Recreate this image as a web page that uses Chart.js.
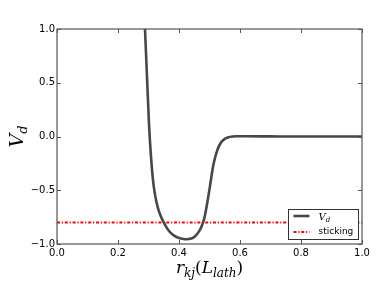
<!DOCTYPE html>
<html>
<head>
<meta charset="utf-8">
<script src="https://cdn.jsdelivr.net/npm/chart.js@4.4.1/dist/chart.umd.min.js"></script>
<style>
  html, body { margin: 0; padding: 0; background: #fff; }
  #wrap { width: 382px; height: 288px; }
</style>
</head>
<body>
<div id="wrap"><canvas id="myChart" width="382" height="288"></canvas></div>
<script>
// values
const rValues = [0.282, 0.2885, 0.295, 0.3016, 0.307, 0.3125, 0.317, 0.322, 0.327, 0.333, 0.340, 0.349, 0.360,
  0.372, 0.385, 0.400, 0.415, 0.425, 0.437, 0.447, 0.457, 0.465, 0.472, 0.480, 0.486, 0.491, 0.496, 0.502,
  0.507, 0.512, 0.518, 0.524, 0.531, 0.540, 0.550, 0.562, 0.575, 0.589, 0.62, 0.7, 0.8, 0.9, 1.0];
const vdValues = [1.45, 1.0, 0.56, 0.12, -0.14, -0.34, -0.46, -0.55, -0.62, -0.685, -0.74, -0.795, -0.85,
  -0.895, -0.925, -0.945, -0.954, -0.956, -0.952, -0.94, -0.915, -0.885, -0.85, -0.79, -0.72, -0.645, -0.56, -0.455,
  -0.36, -0.275, -0.20, -0.14, -0.09, -0.048, -0.022, -0.008, 0.0, 0.003, 0.002, 0.001, 0.0, 0.0, 0.0];
const stickingR = [0.0, 1.0];
const stickingV = [-0.8, -0.8];
const xTicks = [0.0, 0.2, 0.4, 0.6, 0.8, 1.0];
const yTicks = [-1.0, -0.5, 0.0, 0.5, 1.0];

const fmt = v => (v < 0 ? '\u2212' : '') + Math.abs(v).toFixed(1);

// draws a little piece of "math" text: [text, size, dy, italic]
function drawMath(ctx, parts, x, y, align) {
  let w = 0;
  parts.forEach(p => {
    ctx.font = (p[3] ? 'italic ' : '') + p[1] + 'px "DejaVu Serif"';
    w += ctx.measureText(p[0]).width;
  });
  let cx = align === 'center' ? x - w / 2 : x;
  ctx.textAlign = 'left';
  ctx.textBaseline = 'alphabetic';
  parts.forEach(p => {
    ctx.font = (p[3] ? 'italic ' : '') + p[1] + 'px "DejaVu Serif"';
    ctx.fillText(p[0], cx, y + p[2]);
    cx += ctx.measureText(p[0]).width;
  });
}

const framePlugin = {
  id: 'frame',
  afterDraw(chart) {
    const ctx = chart.ctx;
    const a = chart.chartArea;
    const xs = chart.scales.x, ys = chart.scales.y;
    ctx.save();
    // spines
    ctx.strokeStyle = '#555';
    ctx.lineWidth = 1.2;
    ctx.strokeRect(a.left, a.top, a.right - a.left, a.bottom - a.top);
    // inward ticks on all four sides
    ctx.lineWidth = 1;
    ctx.beginPath();
    xTicks.forEach(v => {
      const px = Math.round(xs.getPixelForValue(v)) + 0.5;
      ctx.moveTo(px, a.bottom); ctx.lineTo(px, a.bottom - 4);
      ctx.moveTo(px, a.top); ctx.lineTo(px, a.top + 4);
    });
    yTicks.forEach(v => {
      const py = Math.round(ys.getPixelForValue(v)) + 0.5;
      ctx.moveTo(a.left, py); ctx.lineTo(a.left + 4, py);
      ctx.moveTo(a.right, py); ctx.lineTo(a.right - 4, py);
    });
    ctx.stroke();

    // axis titles
    ctx.fillStyle = '#000';
    drawMath(ctx, [['r', 17, 0, true], ['kj', 12, 4, true], ['(', 17, 0, false], ['L', 17, 0, true],
      ['lath', 12, 4, true], [')', 17, 0, false]], (a.left + a.right) / 2, 272.5, 'center');
    ctx.save();
    ctx.translate(23, (a.top + a.bottom) / 2);
    ctx.rotate(-Math.PI / 2);
    drawMath(ctx, [['V', 19, 0, true], ['d', 13, 4, true]], 0, 0, 'center');
    ctx.restore();

    // legend
    const ds = chart.data.datasets;
    const bx = 288.5, by = 209.5, bw = 70, bh = 30;
    ctx.fillStyle = '#fff';
    ctx.fillRect(bx, by, bw, bh);
    ctx.strokeStyle = '#333';
    ctx.lineWidth = 1;
    ctx.strokeRect(bx, by, bw, bh);
    const rows = [216, 232];
    ds.forEach((d, i) => {
      ctx.beginPath();
      ctx.strokeStyle = d.borderColor;
      ctx.lineWidth = d.borderWidth;
      ctx.setLineDash(d.borderDash || []);
      ctx.moveTo(bx + 5, rows[i]);
      ctx.lineTo(bx + 21, rows[i]);
      ctx.stroke();
      ctx.setLineDash([]);
    });
    ctx.fillStyle = '#000';
    drawMath(ctx, [['V', 10, 0, true], ['d', 7, 2, true]], bx + 30, rows[0] + 3.5, 'left');
    ctx.font = '9px "DejaVu Sans"';
    ctx.textBaseline = 'middle';
    ctx.fillText('sticking', bx + 30, rows[1]);
    ctx.restore();
  }
};

const ctx = document.getElementById('myChart').getContext('2d');
const myChart = new Chart(ctx, {
  type: 'line',
  data: {
    datasets: [{
      label: 'Vd',
      data: rValues.map((r, i) => ({ x: r, y: vdValues[i] })),
      borderColor: '#474747',
      borderWidth: 2.6,
      pointRadius: 0,
      cubicInterpolationMode: 'monotone',
      clip: 0
    }, {
      label: 'sticking',
      data: stickingR.map((r, i) => ({ x: r, y: stickingV[i] })),
      borderColor: '#ff0000',
      borderWidth: 2,
      borderDash: [3, 1.8, 1.2, 1.8],
      pointRadius: 0,
      clip: 0
    }]
  },
  options: {
    responsive: false,
    animation: false,
    devicePixelRatio: 1,
    layout: { padding: { left: 0, top: 29, right: 20, bottom: 0 } },
    plugins: { legend: { display: false }, tooltip: { enabled: false } },
    scales: {
      x: {
        type: 'linear',
        min: 0, max: 1,
        afterFit: s => { s.height = 44; },
        afterBuildTicks: s => { s.ticks = xTicks.map(v => ({ value: v })); },
        grid: { display: false, drawTicks: false },
        border: { display: false },
        ticks: { padding: 3, color: '#000', font: { family: 'DejaVu Sans', size: 10 }, callback: v => fmt(v), maxRotation: 0 }
      },
      y: {
        type: 'linear',
        min: -1, max: 1,
        afterFit: s => { s.width = 57; },
        afterBuildTicks: s => { s.ticks = yTicks.map(v => ({ value: v })); },
        grid: { display: false, drawTicks: false },
        border: { display: false },
        ticks: { padding: 2, color: '#000', font: { family: 'DejaVu Sans', size: 10 }, callback: v => fmt(v) }
      }
    }
  },
  plugins: [framePlugin]
});
</script>
</body>
</html>
